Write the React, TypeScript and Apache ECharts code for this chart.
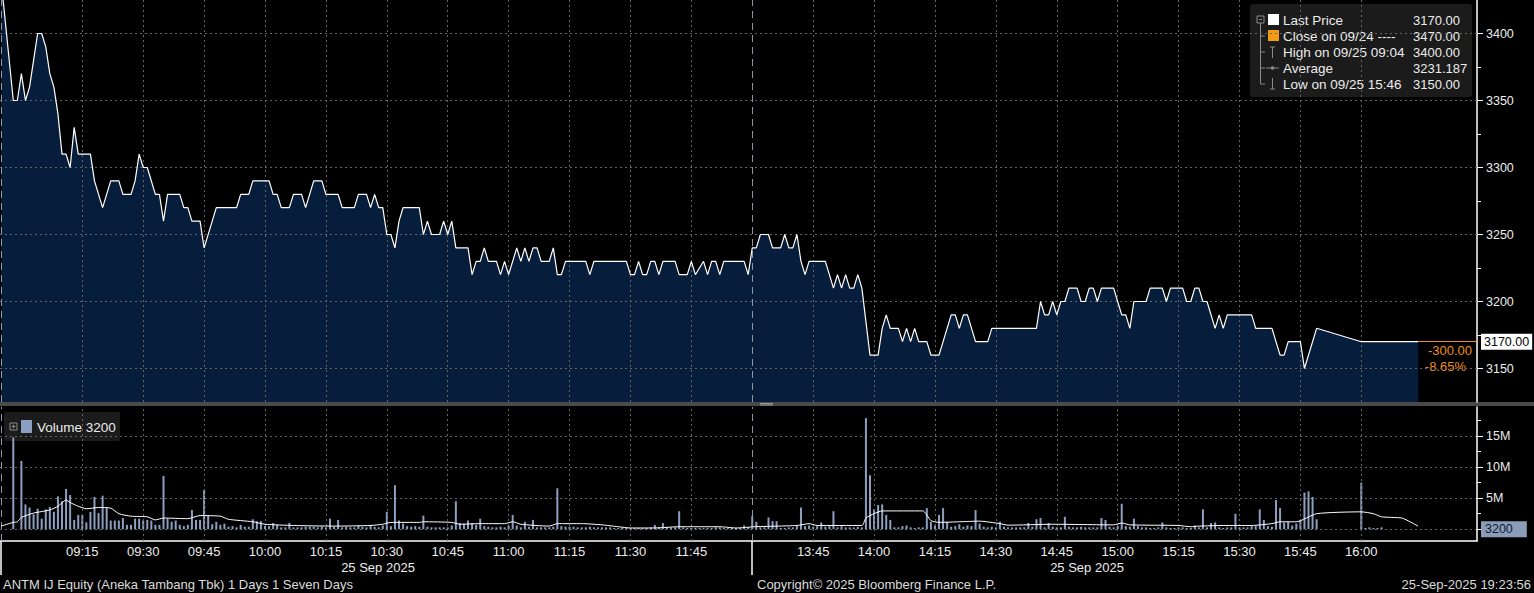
import React, { useEffect, useRef } from "react";
import * as echarts from "echarts";

// ---------- data ----------
const priceTicks = [3150, 3200, 3250, 3300, 3350, 3400];
const priceMinorTicks = [3175, 3225, 3275, 3325, 3375];
const volTicks = [0, 5, 10, 15];
const volLabelTicks = [5, 10, 15];
const volMinorTicks = [2.5, 7.5, 12.5, 17.5];
const timeTicks = [
  "09:15", "09:30", "09:45", "10:00", "10:15", "10:30", "10:45", "11:00", "11:15", "11:30", "11:45",
  "13:45", "14:00", "14:15", "14:30", "14:45", "15:00", "15:15", "15:30", "15:45", "16:00",
];
const sessionStarts = ["08:55", "13:30"];
const dateLabel = "25 Sep 2025";

const lastPrice = 3170;
const prevClose = 3470;
const highPrice = 3400;
const lowPrice = 3150;
const avgPrice = 3231.187;
const lastTime = "16:14";
const lastVolume = 3200;

// price path (time, price)
const pricePoints: [string, number][] = [
  ["08:55", 3440], ["08:58", 3350], ["08:59", 3350], ["09:00", 3370], ["09:01", 3350], ["09:02", 3360],
  ["09:03", 3380], ["09:04", 3400], ["09:05", 3400], ["09:06", 3390], ["09:07", 3370], ["09:08", 3360],
  ["09:09", 3340], ["09:10", 3310], ["09:11", 3310], ["09:12", 3300], ["09:13", 3330], ["09:14", 3310],
  ["09:17", 3310], ["09:18", 3290], ["09:20", 3270], ["09:22", 3290], ["09:24", 3290], ["09:25", 3280],
  ["09:27", 3280], ["09:28", 3290], ["09:29", 3310], ["09:30", 3300], ["09:31", 3300], ["09:33", 3280],
  ["09:34", 3280], ["09:35", 3260], ["09:36", 3280], ["09:39", 3280], ["09:40", 3270], ["09:41", 3270],
  ["09:42", 3260], ["09:44", 3260], ["09:45", 3240], ["09:48", 3270], ["09:53", 3270], ["09:54", 3280],
  ["09:56", 3280], ["09:57", 3290], ["10:01", 3290], ["10:02", 3280], ["10:03", 3280], ["10:04", 3270],
  ["10:06", 3270], ["10:07", 3280], ["10:09", 3280], ["10:10", 3270], ["10:12", 3290], ["10:14", 3290],
  ["10:15", 3280], ["10:18", 3280], ["10:19", 3270], ["10:22", 3270], ["10:23", 3280], ["10:25", 3280],
  ["10:26", 3270], ["10:27", 3280], ["10:28", 3270], ["10:29", 3270], ["10:30", 3250], ["10:31", 3250],
  ["10:32", 3240], ["10:33", 3260], ["10:34", 3270], ["10:38", 3270], ["10:39", 3250], ["10:40", 3260],
  ["10:41", 3250], ["10:43", 3250], ["10:44", 3260], ["10:45", 3250], ["10:46", 3260], ["10:47", 3240],
  ["10:50", 3240], ["10:51", 3220], ["10:52", 3230], ["10:53", 3230], ["10:54", 3240], ["10:55", 3230],
  ["10:57", 3230], ["10:58", 3220], ["10:59", 3230], ["11:00", 3220], ["11:02", 3240], ["11:03", 3230],
  ["11:04", 3240], ["11:05", 3230], ["11:06", 3240], ["11:07", 3240], ["11:08", 3230], ["11:10", 3230],
  ["11:11", 3240], ["11:12", 3220], ["11:13", 3220], ["11:14", 3230], ["11:19", 3230], ["11:20", 3220],
  ["11:21", 3230], ["11:29", 3230], ["11:30", 3220], ["11:31", 3220], ["11:32", 3230], ["11:33", 3220],
  ["11:34", 3220], ["11:35", 3230], ["11:36", 3230], ["11:37", 3220], ["11:38", 3230], ["11:41", 3230],
  ["11:42", 3220], ["11:44", 3220], ["11:45", 3230], ["11:46", 3220], ["11:48", 3230], ["11:49", 3220],
  ["11:50", 3230], ["11:51", 3230], ["11:52", 3220], ["11:53", 3230], ["11:58", 3230], ["11:59", 3220],
  ["13:30", 3240], ["13:31", 3240], ["13:32", 3250], ["13:34", 3250], ["13:35", 3240], ["13:37", 3240],
  ["13:38", 3250], ["13:39", 3240], ["13:40", 3240], ["13:41", 3250], ["13:42", 3230], ["13:43", 3220],
  ["13:44", 3230], ["13:48", 3230], ["13:49", 3220], ["13:50", 3210], ["13:51", 3220], ["13:52", 3210],
  ["13:53", 3220], ["13:54", 3210], ["13:55", 3210], ["13:56", 3220], ["13:57", 3210], ["13:59", 3160],
  ["14:01", 3160], ["14:02", 3180], ["14:03", 3190], ["14:04", 3180], ["14:06", 3180], ["14:07", 3170],
  ["14:08", 3180], ["14:09", 3170], ["14:10", 3180], ["14:11", 3170], ["14:13", 3170], ["14:14", 3160],
  ["14:16", 3160], ["14:19", 3190], ["14:20", 3190], ["14:21", 3180], ["14:22", 3190], ["14:23", 3190],
  ["14:25", 3170], ["14:28", 3170], ["14:29", 3180], ["14:40", 3180], ["14:41", 3200], ["14:42", 3190],
  ["14:43", 3190], ["14:44", 3200], ["14:45", 3190], ["14:46", 3200], ["14:47", 3200], ["14:48", 3210],
  ["14:50", 3210], ["14:51", 3200], ["14:52", 3200], ["14:53", 3210], ["14:54", 3210], ["14:55", 3200],
  ["14:56", 3210], ["14:59", 3210], ["15:00", 3200], ["15:01", 3190], ["15:02", 3190], ["15:03", 3180],
  ["15:04", 3200], ["15:07", 3200], ["15:08", 3210], ["15:11", 3210], ["15:12", 3200], ["15:13", 3210],
  ["15:16", 3210], ["15:17", 3200], ["15:18", 3200], ["15:19", 3210], ["15:20", 3210], ["15:21", 3200],
  ["15:22", 3200], ["15:24", 3180], ["15:25", 3190], ["15:26", 3180], ["15:27", 3190], ["15:33", 3190],
  ["15:34", 3180], ["15:38", 3180], ["15:40", 3160], ["15:41", 3160], ["15:42", 3170], ["15:45", 3170],
  ["15:46", 3150], ["15:49", 3180], ["16:00", 3170], ["16:14", 3170],
];

// per-minute volume (millions), session 1 from 08:58, session 2 from 13:30
const vol1Start = "08:58";
const vol1 = [
  14.8, 0,
  11.0, 4.0, 3.5, 2.4, 3.3, 1.7, 3.2, 3.6, 2.8, 5.3, 4.5, 6.5, 5.5, 1.5, 2.3,
  2.3, 1.1, 2.8, 5.2, 2.6, 5.4, 3.4, 1.4, 1.4, 1.4, 1.8, 0.7, 0.7, 1.7, 1.7,
  1.4, 1.5, 1.4, 0.7, 0.7, 8.6, 1.7, 1.2, 1.4, 0.7, 0.5, 0.7, 3.1, 1.5, 1.5,
  6.3, 2.2, 0.8, 1.2, 0.7, 0.9, 0.4, 0.5, 0.3, 0.7, 0.4, 0.4, 1.6, 1.3, 1.3,
  0.5, 0.5, 1.0, 0.7, 0.3, 0.3, 1.0, 0.3, 0.3, 0.3, 0.4, 0.4, 0.4, 0.3, 0.4,
  0.3, 1.7, 0.4, 1.5, 0.3, 0.4, 0.3, 0.3, 0.6, 0.4, 0.3, 0.7, 0.4, 0.3, 0.6,
  2.8, 0.5, 7.1, 1.4, 0.9, 0.5, 0.4, 0.5, 0.4, 2.2, 0.4, 0.3, 0.3, 0.3, 0.3,
  0.3, 0.6, 4.5, 1.0, 0.9, 1.4, 1.0, 0.7, 1.7, 0.5, 0.4, 0.3, 0.3, 0.4, 0.3,
  0.6, 2.3, 0.6, 0.3, 1.2, 0.4, 1.5, 0.3, 0.3, 0.3, 0.3, 0.4, 6.6, 0.5, 0.4,
  0.4, 0.4, 0.3, 0.3, 0.3, 0.4, 0.3, 0.3, 0.3, 0.3, 0.3, 0.2, 0.2, 0.2, 0.2,
  0.2, 0.2, 0.2, 0.2, 0.2, 0.3, 0.7, 0.3, 1.0, 0.3, 0.3, 0.3, 2.9, 0.3, 0.2,
  0.2, 0.2, 0.2, 0.2, 0.2, 0.2, 0.3, 0.3, 0.2, 0.2, 0.3, 0.2, 0.2, 0.6, 0.3,
];
const vol2Start = "13:30";
const vol2 = [
  2.1, 1.2, 0.3, 0.3, 1.9, 1.3, 1.3, 0.2, 0.2, 0.3, 0.3, 0.5, 3.5, 0.5, 0.6,
  0.4, 0.5, 1.1, 0.4, 0.5, 2.9, 0.3, 0.5, 0.3, 0.3, 0.3, 0.4, 0.3, 17.9, 8.7,
  3.2, 3.9, 4.0, 2.3, 1.5, 0.3, 0.3, 0.5, 0.6, 0.3, 0.2, 0.3, 0.3, 3.4, 1.2,
  0.6, 2.3, 3.4, 1.2, 0.4, 0.5, 0.8, 0.4, 0.6, 0.5, 3.1, 0.9, 0.4, 0.3, 0.4,
  0.3, 1.2, 0.4, 0.3, 0.3, 0.3, 0.3, 0.3, 1.0, 0.4, 1.6, 1.8, 0.3, 1.0, 0.4,
  0.3, 0.3, 2.0, 0.4, 0.3, 0.3, 0.4, 0.3, 0.3, 0.3, 0.3, 1.8, 1.5, 0.4, 0.3,
  0.5, 4.1, 0.5, 0.4, 1.7, 0.5, 0.3, 0.3, 0.2, 0.2, 0.3, 1.1, 0.3, 0.2, 0.2,
  0.3, 0.3, 0.2, 0.2, 0.6, 0.3, 3.2, 0.3, 1.0, 1.1, 0.3, 0.2, 0.3, 0.3, 2.5,
  0.3, 0.3, 0.3, 0.5, 0.5, 3.2, 1.5, 0.5, 0.4, 4.7, 3.4, 1.1, 1.2, 0.6, 0.9,
  1.5, 5.9, 6.1, 5.2, 1.6, 0, 0, 0, 0, 0, 0, 0, 0, 0, 0,
  7.5, 0.2, 0.3, 0.2, 0.2, 0.3, 0, 0, 0, 0, 0, 0, 0, 0, 0.0032,
];

// volume moving average (millions)
const volAvg: [string, number][] = [
  ["08:55", 0.5], ["08:58", 1.1], ["08:59", 1.2], ["09:00", 1.9], ["09:03", 2.6], ["09:07", 3.1],
  ["09:09", 3.7], ["09:11", 4.7], ["09:12", 4.3], ["09:14", 3.7], ["09:16", 3.3], ["09:19", 3.5],
  ["09:22", 3.4], ["09:24", 2.5], ["09:27", 2.1], ["09:31", 2.0], ["09:33", 1.5], ["09:35", 1.8],
  ["09:41", 1.7], ["09:44", 2.2], ["09:49", 2.1], ["09:51", 1.6], ["09:57", 1.2], ["10:00", 0.8],
  ["10:07", 0.6], ["10:17", 0.5], ["10:26", 0.6], ["10:29", 0.8], ["10:31", 1.1], ["10:38", 1.1],
  ["10:39", 1.2], ["10:46", 1.1], ["10:48", 0.8], ["10:53", 0.9], ["10:59", 0.9], ["11:01", 1.2],
  ["11:03", 0.8], ["11:10", 0.5], ["11:12", 0.9], ["11:18", 0.9], ["11:23", 0.7], ["11:27", 0.4],
  ["11:30", 0.2], ["11:36", 0.2], ["11:42", 0.4], ["11:52", 0.4], ["11:56", 0.2], ["12:00", 0.4],
  ["13:30", 0.45], ["13:41", 0.6], ["13:44", 0.9], ["13:46", 0.6], ["13:57", 0.6], ["13:58", 1.8],
  ["14:00", 2.5], ["14:02", 2.95], ["14:12", 2.95], ["14:14", 1.4], ["14:16", 1.1], ["14:21", 1.2],
  ["14:26", 1.3], ["14:31", 0.9], ["14:33", 0.65], ["14:44", 0.8], ["14:59", 0.7], ["15:01", 1.0],
  ["15:03", 0.7], ["15:15", 0.6], ["15:18", 0.4], ["15:20", 0.5], ["15:26", 0.6], ["15:33", 0.6],
  ["15:38", 0.9], ["15:40", 1.2], ["15:44", 1.2], ["15:49", 2.5], ["16:00", 2.8], ["16:03", 2.5],
  ["16:05", 2.0], ["16:10", 1.8], ["16:12", 1.2], ["16:14", 0.5],
];

// ---------- helpers ----------
// compressed trading-minute scale: 09:00 = 0, 12:00 = 13:30 = 180
const toX = (t: string) => {
  const [h, m] = t.split(":").map(Number);
  const v = h * 60 + m;
  return v <= 720 ? v - 540 : v - 810 + 180;
};
const fromX = (x: number) => {
  const v = x <= 180 ? 540 + x : 810 + (x - 180);
  const h = Math.floor(v / 60);
  const m = Math.round(v - h * 60);
  return String(h).padStart(2, "0") + ":" + String(m).padStart(2, "0");
};

const FONT = '"Liberation Sans", Arial, sans-serif';
const X_MIN = -5.27;
const X_MAX = 358.5;
const GRID_COLOR = "#646464";
const TEXT = "#ececec";
const ORANGE = "#eb8f1e";

const priceData = pricePoints.map(([t, p]) => [toX(t), p]);
const volData: [number, number][] = [];
vol1.forEach((v, i) => { if (v > 0) volData.push([toX(vol1Start) + i, v]); });
vol2.forEach((v, i) => { if (v > 0) volData.push([toX(vol2Start) + i, v]); });
const avgData = volAvg.map(([t, v]) => [toX(t), v]);

const vGrid = timeTicks.map((t) => ({ xAxis: toX(t) }));
const sessionLines = sessionStarts.map((t) => ({
  xAxis: toX(t),
  lineStyle: { color: "#8c97a8", type: [7, 5], width: 1 },
}));
const hGrid = priceTicks.map((p) => ({ yAxis: p }));

const change = lastPrice - prevClose;
const changePct = (change / prevClose) * 100;

function buildOption() {
  const txt = (text: string, x: number, y: number, extra: any = {}) => ({
    type: "text",
    silent: true,
    style: {
      text, x, y,
      fill: TEXT,
      font: `13px ${FONT}`,
      verticalAlign: "middle",
      align: "left",
      ...extra,
    },
  });
  const ln = (x1: number, y1: number, x2: number, y2: number, stroke = "#8a8a8a") => ({
    type: "line",
    silent: true,
    shape: { x1, y1, x2, y2 },
    style: { stroke, lineWidth: 1 },
  });

  const legendRows: [string, string, number][] = [
    ["Last Price", lastPrice.toFixed(2), 20],
    ["Close on 09/24 ----", prevClose.toFixed(2), 36],
    ["High on 09/25 09:04", highPrice.toFixed(2), 52],
    ["Average", String(avgPrice), 68],
    ["Low on 09/25 15:46", lowPrice.toFixed(2), 84],
  ];

  const graphic: any[] = [
    { type: "rect", silent: true, shape: { x: 0, y: 402, width: 1534, height: 4 }, style: { fill: "#4a4a4a" } },
    ln(760, 403.5, 773, 403.5, "#9a9a9a"),
    ln(760, 405, 773, 405, "#9a9a9a"),
    // price legend
    { type: "rect", silent: true, shape: { x: 1250, y: 4, width: 222, height: 93, r: 3 }, style: { fill: "#1b1b1b" } },
    { type: "rect", silent: true, shape: { x: 1257, y: 16, width: 7, height: 7 }, style: { fill: "none", stroke: "#8a8a8a", lineWidth: 1 } },
    ln(1259, 19.5, 1262, 19.5),
    ln(1260.5, 23, 1260.5, 84),
    ln(1260.5, 36, 1265, 36),
    ln(1260.5, 52, 1265, 52),
    ln(1260.5, 68, 1265, 68),
    ln(1260.5, 84, 1265, 84),
    { type: "rect", silent: true, shape: { x: 1268, y: 14, width: 11, height: 11 }, style: { fill: "#ffffff" } },
    { type: "rect", silent: true, shape: { x: 1268, y: 30, width: 11, height: 11 }, style: { fill: "#f39c12" } },
    ln(1272.5, 47, 1272.5, 58),
    ln(1270, 47, 1275, 47),
    ln(1266, 68, 1279, 68),
    { type: "circle", silent: true, shape: { cx: 1272.5, cy: 68, r: 1.8 }, style: { fill: "#8a8a8a" } },
    ln(1272.5, 78, 1272.5, 89),
    ln(1270, 89, 1275, 89),
    ...legendRows.map(([l, , y]) => txt(l, 1283, y, { font: `13.5px ${FONT}` })),
    ...legendRows.map(([, v, y]) => txt(v, 1413, y)),
    // volume legend
    { type: "rect", silent: true, shape: { x: 4, y: 412, width: 116, height: 29, r: 2 }, style: { fill: "#1b1b1b" } },
    { type: "rect", silent: true, shape: { x: 10, y: 423, width: 7, height: 7 }, style: { fill: "none", stroke: "#8a8a8a", lineWidth: 1 } },
    ln(11.5, 426.5, 15.5, 426.5),
    ln(13.5, 424.5, 13.5, 428.5),
    { type: "rect", silent: true, shape: { x: 21, y: 420, width: 11, height: 13 }, style: { fill: "#8c9fc0" } },
    txt(`Volume ${lastVolume}`, 37, 427, { font: `13.5px ${FONT}` }),
    // change labels
    txt(change.toFixed(2), 1472, 350, { fill: ORANGE, align: "right" }),
    txt(changePct.toFixed(2) + "%", 1466, 366, { fill: ORANGE, align: "right" }),
    // dates under the time axis
    txt(dateLabel, 378, 567, { align: "center" }),
    txt(dateLabel, 1087, 567, { align: "center" }),
    // footer
    txt("ANTM IJ Equity (Aneka Tambang Tbk) 1 Days 1 Seven Days", 3, 584, { fill: "#dcdcdc" }),
    txt("Copyright\u00A9 2025 Bloomberg Finance L.P.", 757, 584, { fill: "#dcdcdc" }),
    txt("25-Sep-2025 19:23:56", 1531, 584, { fill: "#dcdcdc", align: "right" }),
  ];

  const dashed = { color: GRID_COLOR, type: [2, 3], width: 1 };

  return {
    animation: false,
    backgroundColor: "#000000",
    textStyle: { fontFamily: FONT },
    grid: [
      { left: 0, top: 0, width: 1477, height: 402 },
      { left: 0, top: 407, width: 1477, height: 134 },
    ],
    xAxis: [
      { type: "value", gridIndex: 0, min: X_MIN, max: X_MAX, show: false },
      {
        type: "value", gridIndex: 1, min: X_MIN, max: X_MAX,
        axisLine: { show: true, onZero: false, lineStyle: { color: "#ffffff", width: 1.5 } },
        axisTick: {
          show: true, customValues: sessionStarts.map(toX), length: 34, inside: false,
          lineStyle: { color: "#ffffff", width: 1.5 },
        },
        axisLabel: {
          show: true, customValues: timeTicks.map(toX), formatter: (v: number) => fromX(v),
          color: TEXT, fontSize: 13, fontFamily: FONT, margin: 4,
        },
        splitLine: { show: false },
      },
    ],
    yAxis: [
      {
        type: "value", gridIndex: 0, position: "right", min: 3125, max: 3425,
        axisLine: { show: true, onZero: false, lineStyle: { color: "#ffffff", width: 1.5 } },
        axisTick: { show: true, customValues: priceTicks, length: 6, lineStyle: { color: "#ffffff" } },
        axisLabel: {
          show: true, customValues: priceTicks, formatter: (v: number) => String(v),
          color: TEXT, fontSize: 12.5, fontFamily: FONT, margin: 9,
        },
        splitLine: { show: false },
      },
      {
        type: "value", gridIndex: 0, position: "right", min: 3125, max: 3425,
        axisLine: { show: false, onZero: false },
        axisTick: { show: true, customValues: priceMinorTicks, length: 4, lineStyle: { color: "#ffffff" } },
        axisLabel: { show: false },
        splitLine: { show: false },
      },
      {
        type: "value", gridIndex: 1, position: "right", min: -1.9, max: 19.7,
        axisLine: { show: true, onZero: false, lineStyle: { color: "#ffffff", width: 1.5 } },
        axisTick: { show: true, customValues: volTicks, length: 6, lineStyle: { color: "#ffffff" } },
        axisLabel: {
          show: true, customValues: volLabelTicks, formatter: (v: number) => `${v}M`,
          color: TEXT, fontSize: 12.5, fontFamily: FONT, margin: 9,
        },
        splitLine: { show: true, lineStyle: dashed },
      },
      {
        type: "value", gridIndex: 1, position: "right", min: -1.9, max: 19.7,
        axisLine: { show: false, onZero: false },
        axisTick: { show: true, customValues: volMinorTicks, length: 4, lineStyle: { color: "#ffffff" } },
        axisLabel: { show: false },
        splitLine: { show: false },
      },
    ],
    series: [
      {
        name: "priceArea", type: "line", xAxisIndex: 0, yAxisIndex: 0, data: priceData,
        symbol: "none", silent: true, z: 1,
        lineStyle: { width: 0 },
        areaStyle: { color: "#061e3b", opacity: 1, origin: "start" },
        markLine: {
          silent: true, symbol: ["none", "none"], z: 3, animation: false,
          label: { show: false },
          lineStyle: dashed,
          data: [...vGrid, ...hGrid, ...sessionLines],
        },
      },
      {
        name: "Last Price", type: "line", xAxisIndex: 0, yAxisIndex: 0, data: priceData,
        symbol: "none", silent: true, z: 4,
        lineStyle: { color: "#ffffff", width: 1.2 },
        markLine: {
          silent: true, symbol: ["none", "none"], z: 5, animation: false,
          lineStyle: { color: ORANGE, width: 1, type: "solid" },
          label: {
            show: true, position: "end", distance: 4,
            formatter: lastPrice.toFixed(2),
            backgroundColor: "#ffffff", color: "#000000", fontSize: 12.5, fontFamily: FONT,
            padding: [2, 3, 1, 3],
          },
          data: [[{ coord: [toX(lastTime), lastPrice] }, { coord: [X_MAX, lastPrice] }]],
        },
      },
      {
        name: "Volume", type: "bar", xAxisIndex: 1, yAxisIndex: 2, data: volData,
        barWidth: 2, silent: true, z: 2,
        itemStyle: { color: "#8c9fc0" },
        markLine: {
          silent: true, symbol: ["none", "none"], z: 3, animation: false,
          label: { show: false },
          lineStyle: dashed,
          data: [...vGrid, ...sessionLines],
        },
      },
      {
        name: "Volume Avg", type: "line", xAxisIndex: 1, yAxisIndex: 2, data: avgData,
        symbol: "none", silent: true, z: 4, smooth: 0.2,
        lineStyle: { color: "#ffffff", width: 1 },
        markLine: {
          silent: true, symbol: ["none", "none"], z: 6, animation: false,
          lineStyle: { color: "rgba(0,0,0,0)", width: 1, type: "solid" },
          label: {
            show: true, position: "end", distance: 4, formatter: String(lastVolume),
            backgroundColor: "#8a9cba", color: "#0e1c33", fontSize: 12.5, fontFamily: FONT,
            padding: [2, 14, 1, 4],
          },
          data: [[{ coord: [toX(lastTime), lastVolume / 1e6] }, { coord: [X_MAX, lastVolume / 1e6] }]],
        },
      },
    ],
    graphic,
  };
}

export default function App() {
  const ref = useRef<HTMLDivElement>(null);
  useEffect(() => {
    document.body.style.margin = "0";
    document.body.style.background = "#000";
    const chart = echarts.init(ref.current as HTMLDivElement, null, { renderer: "svg" });
    chart.setOption(buildOption() as any);
    return () => chart.dispose();
  }, []);
  return (
    <div
      ref={ref}
      style={{ position: "absolute", left: 0, top: 0, width: 1534, height: 593, background: "#000" }}
    />
  );
}
